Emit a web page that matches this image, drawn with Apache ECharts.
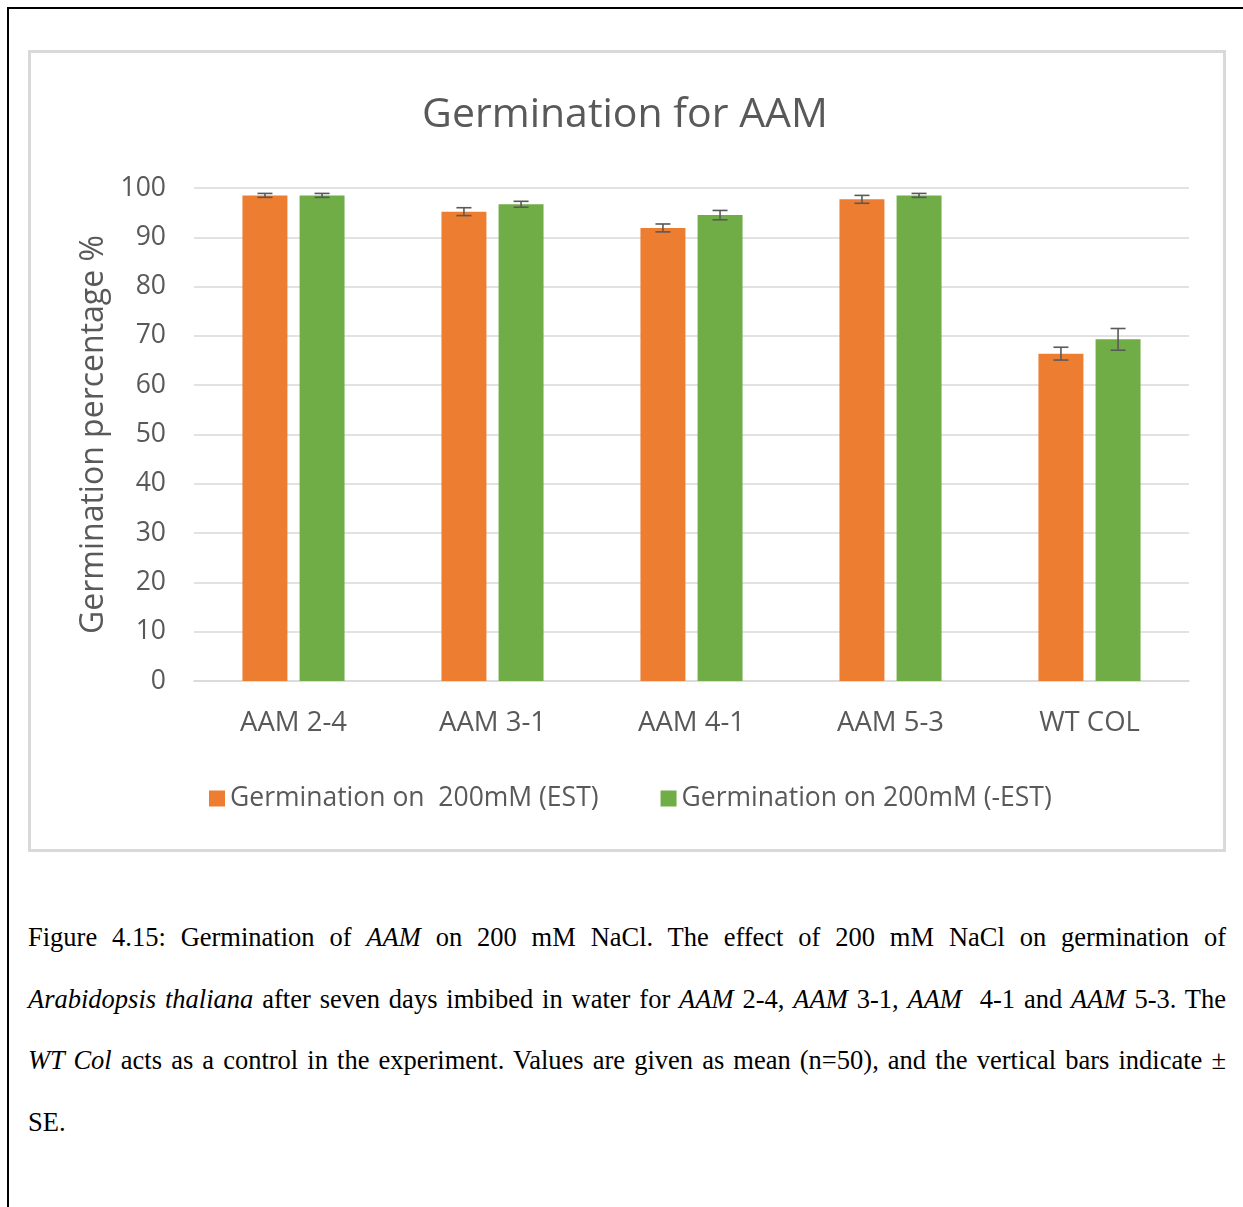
<!DOCTYPE html>
<html>
<head>
<meta charset="utf-8">
<script src="https://cdn.jsdelivr.net/npm/echarts@6/dist/echarts.min.js"></script>
<style>
  html, body { margin: 0; padding: 0; background: #fff; }
  body { width: 1243px; height: 1207px; position: relative; overflow: hidden; }
  #frameTop { position: absolute; left: 7px; top: 7px; width: 1236px; height: 2px; background: #000; }
  #frameLeft { position: absolute; left: 7px; top: 7px; width: 2px; height: 1200px; background: #000; }
  #chart { position: absolute; left: 0; top: 0; width: 1243px; height: 900px; }
  #caption {
    position: absolute; left: 28px; top: 907px; width: 1198px;
    font-family: "Liberation Serif", "Times New Roman", serif;
    font-size: 26.5px; line-height: 61.5px; color: #000;
  }
  #caption div { text-align: justify; text-align-last: justify; white-space: nowrap; }
  #caption div.last { text-align-last: left; }
</style>
</head>
<body>
<div id="frameTop"></div>
<div id="frameLeft"></div>
<div id="chart"></div>
<div id="caption">
  <div>Figure 4.15: Germination of <i>AAM</i> on 200 mM NaCl. The effect of 200 mM NaCl on germination of</div>
  <div><i>Arabidopsis thaliana</i> after seven days imbibed in water for <i>AAM</i> 2-4, <i>AAM</i> 3-1, <i>AAM</i>&nbsp; 4-1 and <i>AAM</i> 5-3. The</div>
  <div><i>WT Col</i> acts as a control in the experiment. Values are given as mean (n=50), and the vertical bars indicate ±</div>
  <div class="last">SE.</div>
</div>
<script>
// Lines tested
const categories = ['AAM 2-4', 'AAM 3-1', 'AAM 4-1', 'AAM 5-3', 'WT COL'];
// Mean germination (%) on 200 mM NaCl
const estMeans = [98.5, 95.2, 91.9, 97.7, 66.4];
const noEstMeans = [98.5, 96.7, 94.5, 98.5, 69.3];
// Standard errors
const estSE = [0.4, 0.8, 0.8, 0.8, 1.3];
const noEstSE = [0.4, 0.6, 0.95, 0.4, 2.2];
const yTicks = [0, 10, 20, 30, 40, 50, 60, 70, 80, 90, 100];

const seriesNames = ['Germination on  200mM (EST)', 'Germination on 200mM (-EST)'];
const colors = ['#ED7D31', '#70AD47'];
const FONT = '"Open Sans", "Noto Sans", sans-serif';
const TXT = '#595959';

const BAR_FRAC = 0.226;   // bar width as share of a category band
const GAP_FRAC = 0.27;    // gap between paired bars, share of bar width

function errorSeries(means, errs, side) {
  return {
    type: 'custom',
    name: 'err' + side,
    silent: true,
    z: 5,
    data: means.map((m, i) => [i, m, errs[i]]),
    renderItem: function (params, api) {
      const i = api.value(0), m = api.value(1), e = api.value(2);
      const band = api.size([1, 0])[0];
      const bw = band * BAR_FRAC;
      const off = side * (bw + bw * GAP_FRAC) / 2;
      const top = api.coord([i, m + e]);
      const bot = api.coord([i, m - e]);
      const x = top[0] + off;
      const cap = 7.5;
      const style = { stroke: '#595959', lineWidth: 1.6, fill: null };
      return {
        type: 'group',
        children: [
          { type: 'line', shape: { x1: x, y1: top[1], x2: x, y2: bot[1] }, style: style },
          { type: 'line', shape: { x1: x - cap, y1: top[1], x2: x + cap, y2: top[1] }, style: style },
          { type: 'line', shape: { x1: x - cap, y1: bot[1], x2: x + cap, y2: bot[1] }, style: style }
        ]
      };
    }
  };
}

const chart = echarts.init(document.getElementById('chart'), null, { renderer: 'canvas' });
chart.setOption({
  animation: false,
  backgroundColor: 'transparent',
  title: {
    text: 'Germination for AAM',
    left: 620, textAlign: 'center', top: 90,
    textStyle: { fontFamily: FONT, fontSize: 41, fontWeight: 'normal', color: TXT }
  },
  graphic: [
    { type: 'rect', shape: { x: 29.5, y: 51.5, width: 1195, height: 799 },
      style: { fill: null, stroke: '#d9d9d9', lineWidth: 3 }, silent: true }
  ],
  legend: {
    data: seriesNames,
    orient: 'horizontal',
    left: 204, top: 780, width: 1000,
    itemWidth: 16, itemHeight: 16, itemGap: 62,
    icon: 'rect',
    textStyle: { fontFamily: FONT, fontSize: 26.5, color: TXT }
  },
  grid: { left: 194, right: 54, top: 188, bottom: 219, containLabel: false },
  xAxis: {
    type: 'category',
    data: categories,
    axisLine: { show: true, lineStyle: { color: '#d9d9d9', width: 1.5 } },
    axisTick: { show: false },
    axisLabel: { fontFamily: FONT, fontSize: 27.5, color: TXT, margin: 28 }
  },
  yAxis: {
    type: 'value',
    min: yTicks[0], max: yTicks[yTicks.length - 1], interval: 10,
    name: 'Germination percentage %',
    nameLocation: 'middle', nameRotate: 90, nameGap: 82,
    nameTextStyle: { fontFamily: FONT, fontSize: 32, color: TXT },
    axisLine: { show: false },
    axisTick: { show: false },
    axisLabel: { fontFamily: FONT, fontSize: 26.5, color: TXT, margin: 28 },
    splitLine: { lineStyle: { color: '#d9d9d9', width: 1.5 } }
  },
  series: [
    { type: 'bar', name: seriesNames[0], data: estMeans, barWidth: (BAR_FRAC * 100) + '%',
      barGap: (GAP_FRAC * 100) + '%', itemStyle: { color: colors[0] } },
    { type: 'bar', name: seriesNames[1], data: noEstMeans, barWidth: (BAR_FRAC * 100) + '%',
      barGap: (GAP_FRAC * 100) + '%', itemStyle: { color: colors[1] } },
    errorSeries(estMeans, estSE, -1),
    errorSeries(noEstMeans, noEstSE, 1)
  ]
});
</script>
</body>
</html>
